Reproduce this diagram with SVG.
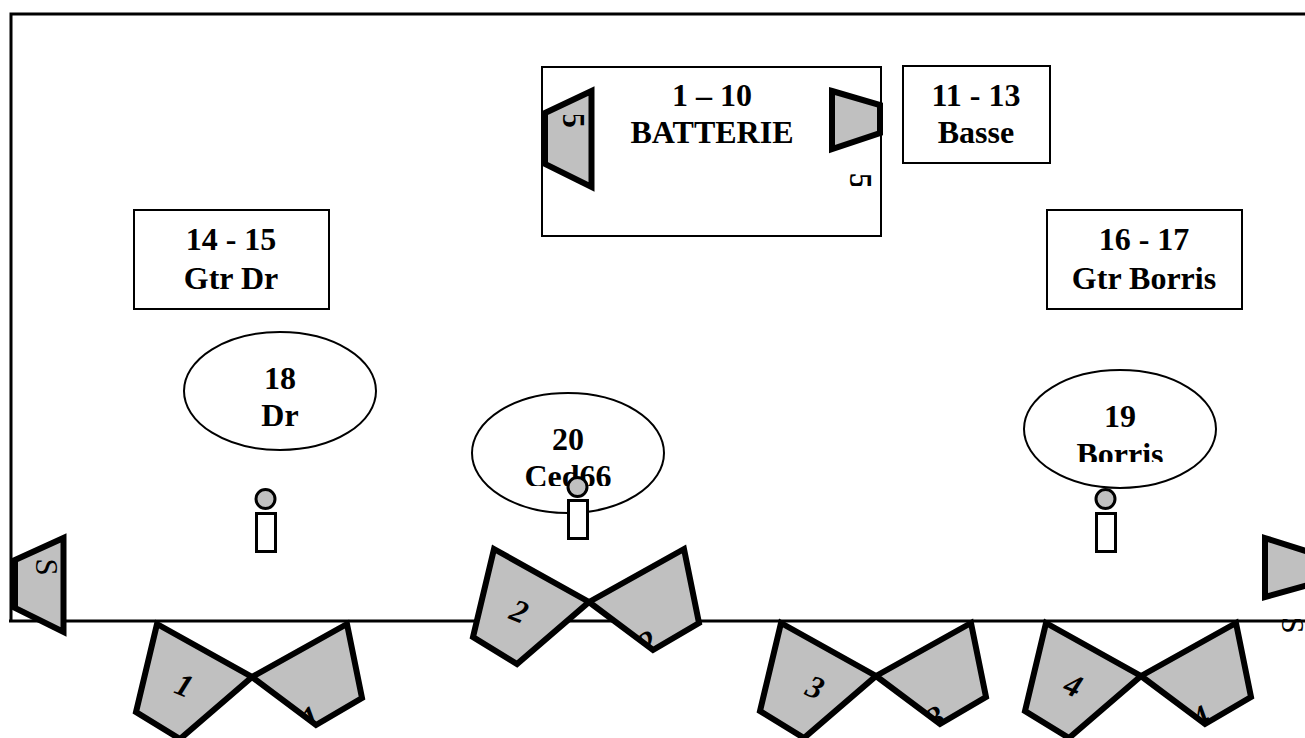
<svg xmlns="http://www.w3.org/2000/svg" width="1305" height="738" viewBox="0 0 1305 738">
<style>
text{font-family:"Liberation Serif","Times New Roman",serif;fill:#000}
.l{font-size:32px;font-weight:700;text-anchor:middle}
.n{font-size:32px;font-style:italic;font-weight:700;text-anchor:middle}
.s{font-size:31px;text-anchor:middle}
.d{font-size:32px;font-weight:700;text-anchor:middle}
.b{fill:#fff;stroke:#000;stroke-width:2}
.sp{fill:#c0c0c0;stroke:#000;stroke-width:6;stroke-linejoin:miter}
.w{fill:#c0c0c0;stroke:#000;stroke-width:6;stroke-linejoin:miter}
.h{fill:#c0c0c0;stroke:#000;stroke-width:3}
.t{fill:#fff;stroke:#000;stroke-width:3}
.f{fill:none;stroke:#000;stroke-width:3}
</style>
<defs>
<polygon id="wl" class="w" points="157,624 252,677 180,739 136,712"/>
<polygon id="wr" class="w" points="347,624 252,677 316,725 362,698"/>
<clipPath id="cw"><polygon points="252,677 347,624 362,698 316,725"/></clipPath>
<clipPath id="c5l"><rect x="560" y="115" width="28" height="13"/></clipPath>
<clipPath id="c5"><rect x="846" y="165" width="30" height="21"/></clipPath>
<clipPath id="c20"><rect x="500" y="455" width="140" height="31"/></clipPath>
<clipPath id="c19"><rect x="1050" y="435" width="140" height="27"/></clipPath>
<clipPath id="cSr"><rect x="1270" y="619" width="35" height="14"/></clipPath>
</defs>
<g id="connectors">
<path class="f" d="M11 621V14H1305M9 621H1305"/>
</g>
<g id="batterie">
<rect class="b" x="542" y="67" width="339" height="169"/>
<text class="l" x="712" y="106">1 – 10</text>
<text class="l" x="712" y="143">BATTERIE</text>
</g>
<g id="basse">
<rect class="b" x="903" y="66" width="147" height="97"/>
<text class="l" x="976" y="106">11 - 13</text>
<text class="l" x="976" y="143">Basse</text>
</g>
<g id="gtr-dr">
<rect class="b" x="134" y="210" width="195" height="99"/>
<text class="l" x="231" y="250">14 - 15</text>
<text class="l" x="231" y="289">Gtr Dr</text>
</g>
<g id="gtr-borris">
<rect class="b" x="1047" y="210" width="195" height="99"/>
<text class="l" x="1144" y="250">16 - 17</text>
<text class="l" x="1144" y="289">Gtr Borris</text>
</g>
<g id="mon-bat-l">
<polygon class="sp" points="545,113 591.500,91 591.500,187 545,164"/>
<g clip-path="url(#c5l)"><text class="d" transform="translate(563,120) rotate(90)">5</text></g>
</g>
<g id="mon-bat-r">
<polygon class="sp" points="832,91 880,105 880,133 832,149"/>
<g clip-path="url(#c5)"><text class="d" transform="translate(850,181) rotate(90)">5</text></g>
</g>
<g id="ell-18">
<ellipse class="b" cx="280" cy="391" rx="96" ry="59"/>
<text class="l" x="280" y="389">18</text>
<text class="l" x="280" y="426">Dr</text>
</g>
<g id="ell-20">
<ellipse class="b" cx="568" cy="453" rx="96" ry="60"/>
<text class="l" x="568" y="450">20</text>
<g clip-path="url(#c20)"><text class="l" x="568" y="487">Ced66</text></g>
</g>
<g id="ell-19">
<ellipse class="b" cx="1120" cy="429" rx="96" ry="59"/>
<text class="l" x="1120" y="427">19</text>
<g clip-path="url(#c19)"><text class="l" x="1120" y="465">Borris</text></g>
</g>
<g id="p1"><circle class="h" cx="265.500" cy="499" r="9.500"/><rect class="t" x="256.500" y="513.500" width="19" height="38"/></g>
<g id="p2"><circle class="h" cx="577.500" cy="487" r="9.500"/><rect class="t" x="568.500" y="500.500" width="19" height="38"/></g>
<g id="p3"><circle class="h" cx="1105.500" cy="499" r="9.500"/><rect class="t" x="1096.500" y="513.500" width="19" height="38"/></g>
<g id="mon-s-l">
<polygon class="sp" points="15,560 63.500,538 63.500,632 15,608"/>
<text class="s" transform="translate(36,567) rotate(90)">S</text>
</g>
<g id="mon-s-r">
<polygon class="sp" points="1265,538 1312,553 1312,584 1265,597"/>
<g clip-path="url(#cSr)"><text class="s" transform="translate(1282,625) rotate(90)">S</text></g>
</g>
<g id="wedge-1">
<use href="#wl"/><use href="#wr"/>
<text class="n" transform="translate(184,686) rotate(22) translate(0,10)">1</text>
<g clip-path="url(#cw)"><text class="n" transform="translate(311,718) rotate(-30) translate(0,10)">1</text></g>
</g>
<g id="wedge-2">
<g transform="translate(337,-75)"><use href="#wl"/><use href="#wr"/>
<g clip-path="url(#cw)"><text class="n" transform="translate(311,718) rotate(-30) translate(0,10)">2</text></g></g>
<text class="n" transform="translate(519,612) rotate(22) translate(0,10)">2</text>
</g>
<g id="wedge-3">
<g transform="translate(624,-1)"><use href="#wl"/><use href="#wr"/>
<g clip-path="url(#cw)"><text class="n" transform="translate(312,719) rotate(-30) translate(0,10)">3</text></g></g>
<text class="n" transform="translate(815,688) rotate(22) translate(0,10)">3</text>
</g>
<g id="wedge-4">
<g transform="translate(889,-1)"><use href="#wl"/><use href="#wr"/>
<g clip-path="url(#cw)"><text class="n" transform="translate(312,719) rotate(-30) translate(0,10)">4</text></g></g>
<text class="n" transform="translate(1073,686) rotate(22) translate(0,10)">4</text>
</g>
</svg>
